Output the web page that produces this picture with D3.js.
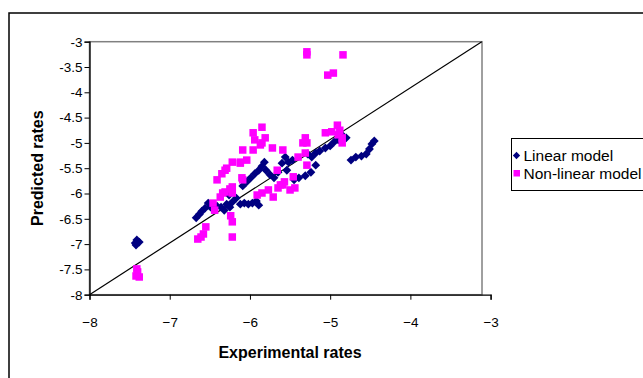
<!DOCTYPE html>
<html>
<head>
<meta charset="utf-8">
<script src="https://cdn.jsdelivr.net/npm/d3@7"></script>
<style>
  body { margin: 0; background: #fff; }
  svg { display: block; }
  text { font-family: "Liberation Sans", Arial, sans-serif; }
</style>
</head>
<body>
<div id="chart"></div>
<script>
// linear model points
var linearX = [-7.43,-7.41,-7.38,-7.42,-6.67,-6.63,-6.60,-6.56,-6.52,-6.49,-6.45,-6.41,-6.36,-6.32,-6.29,-6.25,-6.22,-6.26,-6.17,-6.12,-6.07,-6.02,-5.97,-5.92,-5.89,
  -6.09,-6.04,-5.99,-5.94,-5.89,-5.85,-5.82,-5.80,-5.75,-5.70,-5.65,-5.60,-5.56,-5.52,-5.54,
  -5.45,-5.39,-5.31,-5.24,-5.18,-5.47,-5.28,-5.23,
  -5.18,-5.13,-5.06,-5.00,-4.95,-4.90,-4.84,-4.80,
  -4.74,-4.68,-4.61,-4.55,-4.51,-4.48,-4.45];
var linearY = [-6.98,-6.92,-6.96,-7.02,-6.48,-6.41,-6.35,-6.29,-6.19,-6.27,-6.23,-6.25,-6.27,-6.33,-6.21,-6.27,-6.17,-6.03,-6.09,-6.21,-6.19,-6.21,-6.19,-6.15,-6.23,
  -5.85,-5.77,-5.69,-5.61,-5.54,-5.46,-5.38,-5.54,-5.63,-5.69,-5.58,-5.40,-5.28,-5.38,-5.54,
  -5.73,-5.69,-5.65,-5.58,-5.44,-5.34,-5.22,-5.28,
  -5.20,-5.16,-5.10,-5.06,-4.98,-4.94,-4.86,-4.90,
  -5.34,-5.28,-5.26,-5.22,-5.12,-5.02,-4.96];

// non-linear model points
var nonlinX = [-7.42,-7.40,-7.41,-7.38,-6.65,-6.58,-6.55,-6.61,-6.22,-6.22,-6.24,
  -6.46,-6.44,-6.34,-6.22,-6.41,-6.35,-6.29,-6.22,-6.12,-6.09,-6.37,-6.31,-6.25,
  -5.91,-5.85,-5.77,-5.71,-5.62,-5.57,-5.66,
  -5.85,-5.96,-5.94,-5.85,-5.81,-5.96,-6.09,-5.72,-5.59,-6.04,-6.12,-6.31,-6.10,-6.22,-5.65,-5.59,-5.50,-5.46,
  -5.44,-5.40,-5.31,-5.31,-5.29,-5.29,-5.06,-4.98,-4.91,-4.88,-4.85,-4.85,-4.90,
  -5.29,-5.29,-4.84,-5.03,-4.96,-5.34,-5.87];
var nonlinY = [-7.63,-7.55,-7.49,-7.65,-6.90,-6.80,-6.66,-6.86,-6.86,-6.56,-6.44,
  -6.19,-6.33,-5.99,-5.99,-5.73,-5.61,-5.50,-5.38,-5.38,-5.73,-6.07,-5.97,-5.91,
  -6.03,-5.99,-5.93,-6.07,-5.83,-5.77,-5.54,
  -4.69,-4.80,-4.94,-5.00,-4.90,-5.14,-5.14,-5.10,-5.14,-5.34,-5.40,-5.54,-5.69,-5.87,-5.89,-5.83,-5.93,-5.67,
  -5.89,-5.28,-5.20,-4.90,-5.00,-5.44,-4.80,-4.78,-4.65,-4.75,-4.90,-5.00,-4.84,
  -3.20,-3.26,-3.26,-3.66,-3.62,-5.00,-5.04];

// reference line y = x
var refX = [-8, -3.11];
var refY = [-8, -3];

var xTicks = [-8, -7, -6, -5, -4, -3];
var yTicks = [-3, -3.5, -4, -4.5, -5, -5.5, -6, -6.5, -7, -7.5, -8];
var seriesNames = ["Linear model", "Non-linear model"];

var W = 643, H = 378;
var plotLeft = 89.5, plotRight = 482, axisRight = 490.6, plotTop = 41.7, plotBottom = 294.7;

var svg = d3.select("#chart").append("svg")
  .attr("width", W).attr("height", H);

// outer chart border
svg.append("rect")
  .attr("x", 9).attr("y", 13)
  .attr("width", W).attr("height", H)
  .attr("fill", "none").attr("stroke", "#000").attr("stroke-width", 1.5);

var x = d3.scaleLinear().domain([-8, -3]).range([plotLeft, axisRight]);
var y = d3.scaleLinear().domain([-8, -3]).range([plotBottom, plotTop]);

// plot area border
svg.append("rect")
  .attr("x", plotLeft).attr("y", plotTop)
  .attr("width", plotRight - plotLeft).attr("height", plotBottom - plotTop)
  .attr("fill", "none").attr("stroke", "#808080").attr("stroke-width", 1.5);

var xAxis = svg.append("g")
  .attr("transform", "translate(0," + plotBottom + ")")
  .call(d3.axisBottom(x).tickValues(xTicks).tickSize(5).tickPadding(18).tickFormat(d3.format("d")));
var yAxis = svg.append("g")
  .attr("transform", "translate(" + plotLeft + ",0)")
  .call(d3.axisLeft(y).tickValues(yTicks).tickSize(5).tickPadding(2).tickFormat(function(d) { return d; }));

[xAxis, yAxis].forEach(function(a) {
  a.select(".domain").attr("stroke", "#000").attr("stroke-width", 1.3);
  a.selectAll(".tick line").attr("stroke", "#000");
  a.selectAll("text").attr("fill", "#000").style("font-size", "13.5px");
});

// y = x line
var line = d3.line().x(function(d) { return x(d[0]); }).y(function(d) { return y(d[1]); });
svg.append("path")
  .datum(d3.zip(refX, refY))
  .attr("d", line)
  .attr("fill", "none").attr("stroke", "#000").attr("stroke-width", 1.2);

var diamond = d3.symbol().type(d3.symbolDiamond2).size(50);
svg.append("g").selectAll("path")
  .data(d3.zip(linearX, linearY))
  .enter().append("path")
  .attr("d", diamond)
  .attr("transform", function(d) { return "translate(" + x(d[0]) + "," + y(d[1]) + ")"; })
  .attr("fill", "#000080");

var sq = 7.5;
svg.append("g").selectAll("rect")
  .data(d3.zip(nonlinX, nonlinY))
  .enter().append("rect")
  .attr("x", function(d) { return x(d[0]) - sq / 2; })
  .attr("y", function(d) { return y(d[1]) - sq / 2; })
  .attr("width", sq).attr("height", sq)
  .attr("fill", "#FF00FF");

// axis titles
svg.append("text")
  .attr("x", 290).attr("y", 358)
  .attr("text-anchor", "middle")
  .style("font-size", "16px").style("font-weight", "bold")
  .text("Experimental rates");
svg.append("text")
  .attr("transform", "translate(43," + ((plotTop + plotBottom) / 2) + ") rotate(-90)")
  .attr("text-anchor", "middle")
  .style("font-size", "16px").style("font-weight", "bold")
  .text("Predicted rates");

// legend
var lg = svg.append("g").attr("transform", "translate(511.5,138.5)");
lg.append("rect")
  .attr("width", 150).attr("height", 52)
  .attr("fill", "#fff").attr("stroke", "#000").attr("stroke-width", 1);
lg.append("path")
  .attr("d", d3.symbol().type(d3.symbolDiamond2).size(34))
  .attr("transform", "translate(5,17)")
  .attr("fill", "#000080");
lg.append("rect")
  .attr("x", 2).attr("y", 31.5).attr("width", 6.5).attr("height", 6.5)
  .attr("fill", "#FF00FF");
lg.selectAll("text.lbl")
  .data(seriesNames)
  .enter().append("text")
  .attr("class", "lbl")
  .attr("x", 12).attr("y", function(d, i) { return 22.5 + i * 17.5; })
  .style("font-size", "15.5px")
  .text(function(d) { return d; });
</script>
</body>
</html>
